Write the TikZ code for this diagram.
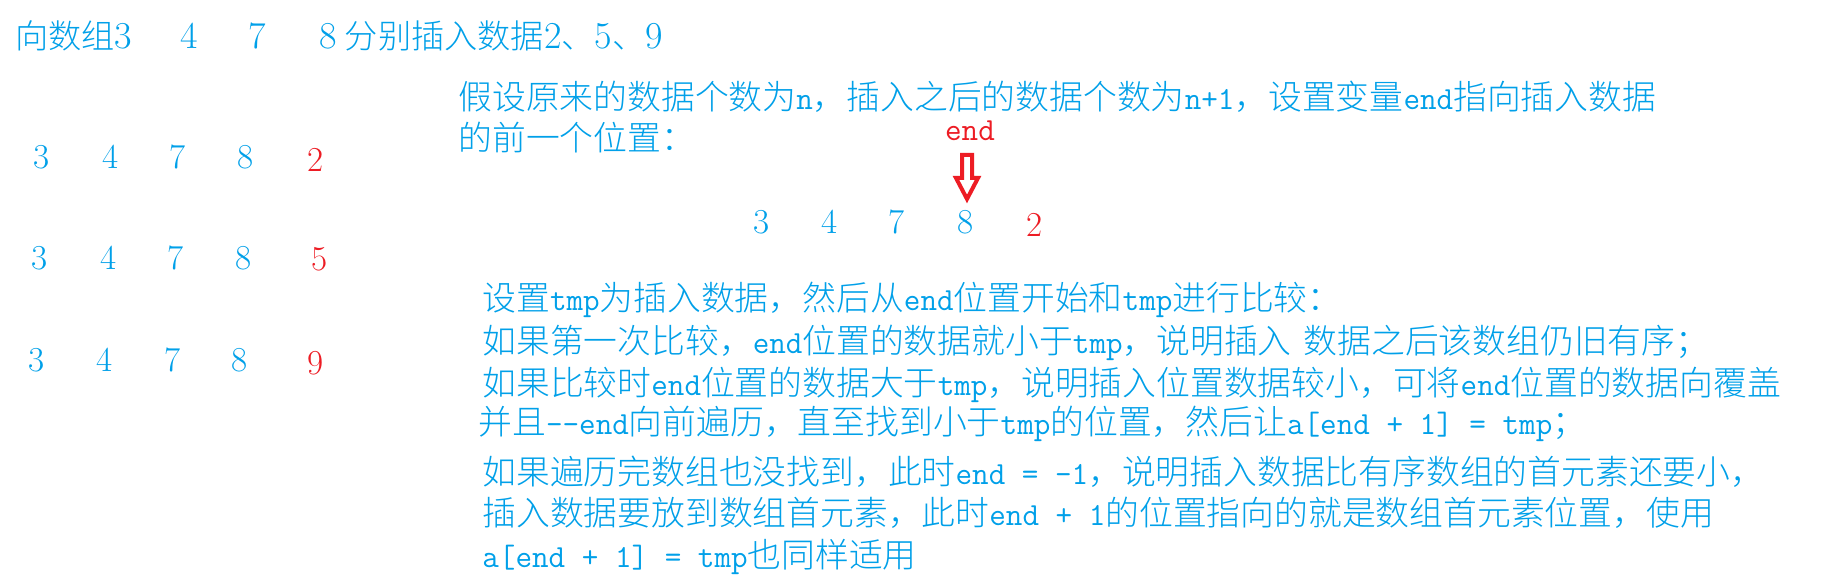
\documentclass[tikz,border=0pt]{standalone}
\usepackage{fontspec}
\newfontfamily\cjk{Noto Sans CJK SC Light}
\definecolor{blu}{RGB}{0,160,233}
\definecolor{rd}{RGB}{237,28,36}
\newcommand\ml[1]{{\fontsize{16.1}{16.1}\ttfamily #1}}
\newcommand\dg[1]{{\fontsize{19}{19}\rmfamily #1}}
\tikzset{
  para/.style={anchor=west, inner sep=0pt, text=blu, font=\cjk\fontsize{16.9}{20}\selectfont},
  ttl/.style={anchor=west, inner sep=0pt, text=blu, font=\cjk\fontsize{16.6}{20}\selectfont},
  num/.style={anchor=center, inner sep=0pt, text=blu, font=\rmfamily\fontsize{17.5}{20}\selectfont},
  rnum/.style={num, text=rd},
}
\begin{document}
\begin{tikzpicture}[x=0.5pt, y=-0.5pt]
\useasboundingbox[fill=white] (0,0) rectangle (1821,588);
% title
\node[ttl] (t1) at (15,36) {向数组\dg{3}};
\node[ttl, anchor=center] (t2) at (189,36) {\dg{4}};
\node[ttl, anchor=center] (t3) at (257,36) {\dg{7}};
\node[ttl] (t4) at (319,36) {\dg{8}\hspace{4pt}分别插入数据\dg{2}、\dg{5}、\dg{9}};
% left column
\node[num] (a1) at (42,157) {3};
\node[num] (a2) at (111,157) {4};
\node[num] (a3) at (178,157) {7};
\node[num] (a4) at (246,157) {8};
\node[rnum] (a5) at (316,160) {2};
\node[num] (b1) at (40,258) {3};
\node[num] (b2) at (109,258) {4};
\node[num] (b3) at (176,258) {7};
\node[num] (b4) at (244,258) {8};
\node[rnum] (b5) at (320,259) {5};
\node[num] (c1) at (37,360) {3};
\node[num] (c2) at (105,360) {4};
\node[num] (c3) at (173,360) {7};
\node[num] (c4) at (240,360) {8};
\node[rnum] (c5) at (316,363) {9};
% paragraph 1
\node[para] (p1) at (458,97) {假设原来的数据个数为\ml{n}，插入之后的数据个数为\ml{n+1}，设置变量\ml{end}指向插入数据};
\node[para] (p2) at (458,138) {的前一个位置：};
\node[anchor=center, inner sep=0pt, text=rd, font=\fontsize{16.1}{16.1}\ttfamily] (endl) at (970,131) {end};
\draw[rd, line width=2pt, fill=white] (962,155) -- (972,155) -- (972,178) -- (978,178) -- (967,199) -- (956,178) -- (962,178) -- cycle;
\node[num] (d1) at (762,222) {3};
\node[num] (d2) at (830,222) {4};
\node[num] (d3) at (897,222) {7};
\node[num] (d4) at (966,222) {8};
\node[rnum] (d5) at (1035,225) {2};
% paragraph 2
\node[para] (q1) at (482,300) {设置\ml{tmp}为插入数据，然后从\ml{end}位置开始和\ml{tmp}进行比较：};
\node[para] (q2) at (482,343) {如果第一次比较，\ml{end}位置的数据就小于\ml{tmp}，说明插入\hspace*{6pt}数据之后该数组仍旧有序；};
\node[para] (q3) at (482,385) {如果比较时\ml{end}位置的数据大于\ml{tmp}，说明插入位置数据较小，可将\ml{end}位置的数据向覆盖};
\node[para] (q4) at (478,424) {并且\ml{-{}-end}向前遍历，直至找到小于\ml{tmp}的位置，然后让\ml{a[end + 1] = tmp}；};
\node[para] (q5) at (482,472) {如果遍历完数组也没找到，此时\ml{end = -1}，说明插入数据比有序数组的首元素还要小，};
\node[para] (q6) at (482,513) {插入数据要放到数组首元素，此时\ml{end + 1}的位置指向的就是数组首元素位置，使用};
\node[para] (q7) at (482,557) {\ml{a[end + 1] = tmp}也同样适用};
\end{tikzpicture}
\end{document}
